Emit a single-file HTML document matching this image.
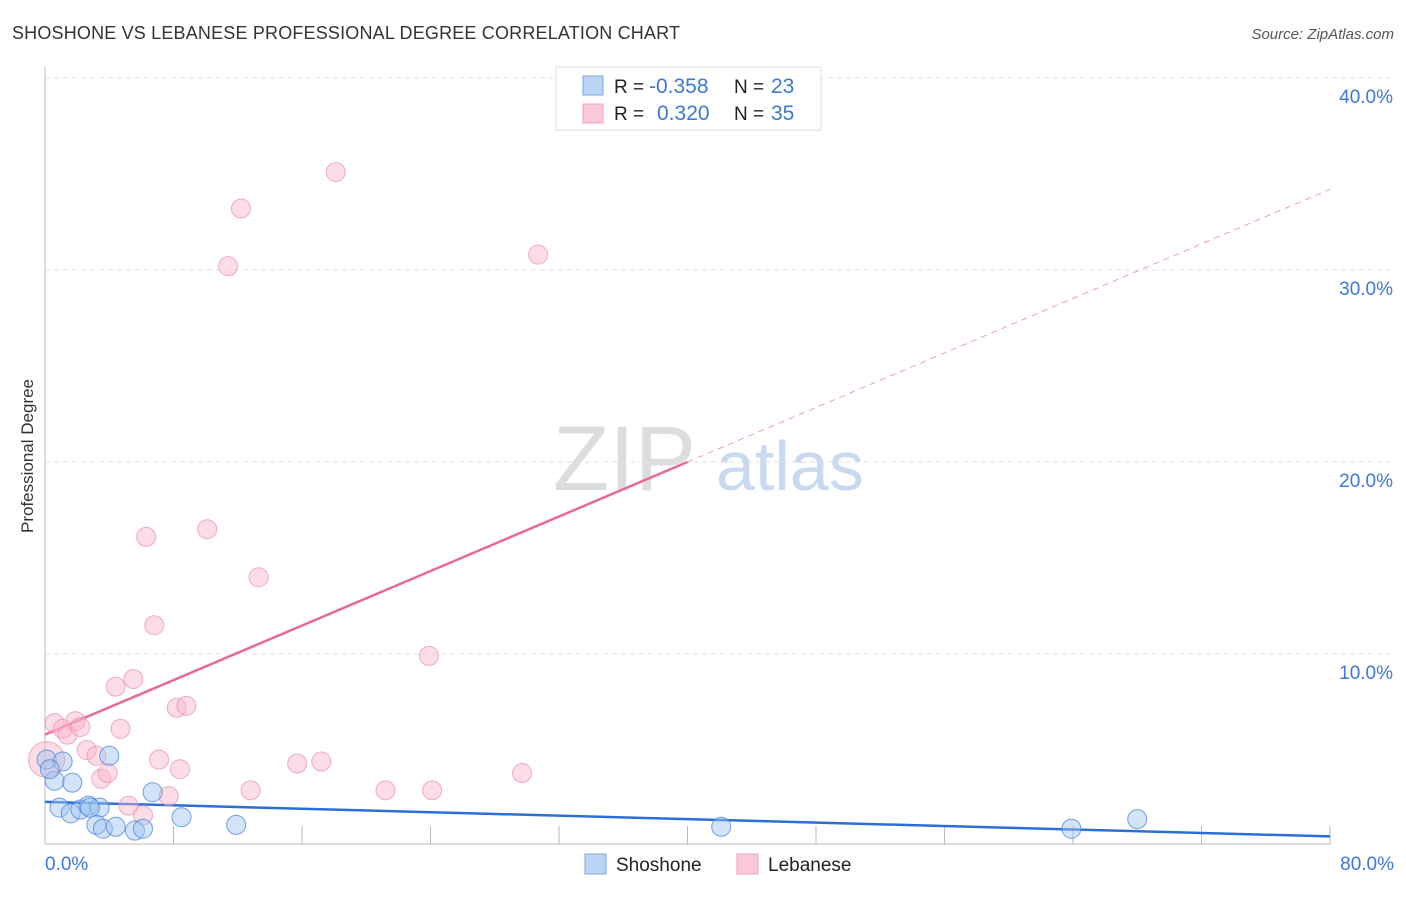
<!DOCTYPE html>
<html><head><meta charset="utf-8"><style>
body{margin:0;background:#fff;font-family:"Liberation Sans",sans-serif;}
svg text{font-family:"Liberation Sans",sans-serif;}
</style></head><body>
<svg id="chart" width="1406" height="892" xmlns="http://www.w3.org/2000/svg">
<text x="12" y="39" font-size="18" fill="#333" textLength="668">SHOSHONE VS LEBANESE PROFESSIONAL DEGREE CORRELATION CHART</text>
<text x="1394" y="39" font-size="15" fill="#555" font-style="italic" text-anchor="end">Source: ZipAtlas.com</text>
<text x="33" y="456" font-size="17" fill="#333" transform="rotate(-90 33 456)" text-anchor="middle">Professional Degree</text>
<g><text x="553" y="490" font-size="92" fill="#ddd" font-family="Liberation Serif">ZIP</text><text x="716" y="490" font-size="70" fill="#c9d9f0">atlas</text></g>
<g id="grid"></g><g id="axes"></g><g id="trends"></g><g id="points"></g>
<g>
<rect x="556" y="67" width="265" height="63" fill="#fff" stroke="#ddd"/>
<rect x="583" y="76" width="20" height="19" fill="#bcd4f5" stroke="#7aa6e8"/>
<rect x="583" y="104" width="20" height="19" fill="#fcc9d8" stroke="#f0a0b8"/>
<text x="614" y="93" font-size="19" fill="#222">R = </text><text x="649" y="93" font-size="21" fill="#3b78d8">-0.358</text>
<text x="734" y="93" font-size="19" fill="#222">N = </text><text x="771" y="93" font-size="21" fill="#3b78d8">23</text>
<text x="614" y="120" font-size="19" fill="#222">R = </text><text x="657" y="120" font-size="21" fill="#3b78d8">0.320</text>
<text x="734" y="120" font-size="19" fill="#222">N = </text><text x="771" y="120" font-size="21" fill="#3b78d8">35</text>
</g>
<g>
<rect x="585" y="854" width="21" height="20" fill="#bcd4f5" stroke="#7aa6e8"/>
<text x="616" y="871" font-size="19" fill="#222">Shoshone</text>
<rect x="737" y="854" width="21" height="20" fill="#fcc9d8" stroke="#f0a0b8"/>
<text x="768" y="871" font-size="19" fill="#222">Lebanese</text>
</g>
</svg>
<script>
const yTicks=[10,20,30,40];
const yTickLabels=["10.0%","20.0%","30.0%","40.0%"];
const xLabels=["0.0%","80.0%"];
const shoX=[0.1,1.1,0.6,1.7,4.0,6.7,0.9,1.6,2.2,2.7,3.4,3.2,3.6,4.4,5.6,6.1,8.5,11.9,42.1,63.9,68.0,2.8,0.3];
const shoY=[4.5,4.4,3.4,3.3,4.7,2.8,2.0,1.7,1.9,2.1,2.0,1.1,0.9,1.0,0.8,0.9,1.5,1.1,1.0,0.9,1.4,2.0,4.0];
const lebX=[0.1,0.6,1.1,1.4,1.9,2.2,2.6,3.2,3.5,3.9,4.4,4.7,5.5,5.2,6.1,6.3,6.8,7.1,7.7,8.2,8.4,8.8,10.1,11.4,12.2,12.8,13.3,15.7,17.2,18.1,21.2,23.9,24.1,29.7,30.7];
const lebY=[4.5,6.4,6.1,5.8,6.5,6.2,5.0,4.7,3.5,3.8,8.3,6.1,8.7,2.1,1.6,16.1,11.5,4.5,2.6,7.2,4.0,7.3,16.5,30.2,33.2,2.9,14.0,4.3,4.4,35.1,2.9,9.9,2.9,3.8,30.8];
const shoTrend=[2.3,0.5];
const lebTrend=[5.8,34.2];
const lebSolidEnd=40;
const NS="http://www.w3.org/2000/svg";
const X=v=>45+v*1285/80, Y=v=>846-v*19.2;
function mk(t,a,p){const e=document.createElementNS(NS,t);for(const k in a)e.setAttribute(k,a[k]);document.getElementById(p).appendChild(e);return e;}
yTicks.forEach((t,i)=>{
 const l=mk('line',{x1:45,x2:1395,y1:Y(t),y2:Y(t),stroke:'#e2e2e2','stroke-dasharray':'5,4'},'grid');
 
 
 const tx=mk('text',{x:1393,y:Y(t)+25,'font-size':19,fill:'#3b78d8','text-anchor':'end'},'axes');tx.textContent=yTickLabels[i];
 
 
});
const ax=mk('line',{x1:45,x2:1330,y1:844,y2:844,stroke:'#bbb'},'axes');


const ay=mk('line',{x1:45,x2:45,y1:67,y2:844,stroke:'#bbb'},'axes');


for(let k=1;k<=10;k++){const t=mk('line',{x1:X(k*8),x2:X(k*8),y1:826,y2:844,stroke:'#bbb'},'axes');
 
 }
[[0,'start',45],[80,'end',1394]].forEach((d,i)=>{const t=mk('text',{x:d[2],y:870,'font-size':19,fill:'#3b78d8','text-anchor':d[1]},'axes');t.textContent=xLabels[i];
 
 });
const ly=x=>lebTrend[0]+(lebTrend[1]-lebTrend[0])*x/80;
const l1=mk('line',{x1:X(0),y1:Y(ly(0)),x2:X(lebSolidEnd),y2:Y(ly(lebSolidEnd)),stroke:'#e8699a','stroke-width':2.5},'trends');


const l2=mk('line',{x1:X(lebSolidEnd),y1:Y(ly(lebSolidEnd)),x2:X(80),y2:Y(ly(80)),stroke:'#e8a0b8','stroke-width':1,'stroke-dasharray':'6,5'},'trends');


const l3=mk('line',{x1:X(0),y1:Y(shoTrend[0]),x2:X(80),y2:Y(shoTrend[1]),stroke:'#2a6fd6','stroke-width':2.5},'trends');


lebX.forEach((x,i)=>{const c=mk('circle',{cx:X(x),cy:Y(lebY[i]),r:i==0?18:9.5,fill:'rgba(248,180,200,0.45)',stroke:'rgba(235,140,170,0.7)'},'points');
 
 });
shoX.forEach((x,i)=>{const c=mk('circle',{cx:X(x),cy:Y(shoY[i]),r:9.5,fill:'rgba(160,195,240,0.45)',stroke:'rgba(70,130,220,0.75)'},'points');
 
 });
</script>
</body></html>
